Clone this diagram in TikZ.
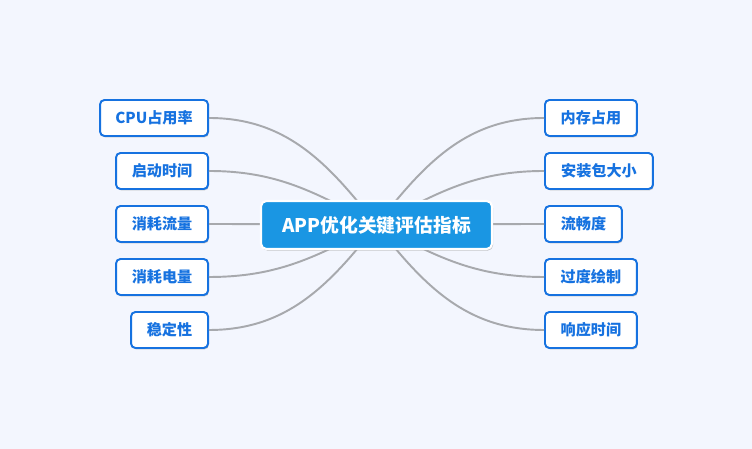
\documentclass[tikz,border=0pt]{standalone}
\usepackage{fontspec}
\setmainfont{Noto Sans CJK SC}
\usepackage{tikz}
\usepackage{xcolor}
\usetikzlibrary{positioning,shadows}
\definecolor{bgpale}{HTML}{F3F6FE}
\definecolor{leafblue}{HTML}{1672E0}
\definecolor{rootblue}{HTML}{1A96E3}
\definecolor{linkgray}{HTML}{A7A9AD}

\begin{document}
\begin{tikzpicture}[
  x=0.02cm, y=0.02cm,
  leaf/.style={draw=leafblue, fill=white, line width=1.1pt, rounded corners=2.5pt, align=center, font=\bfseries\fontsize{8.6}{10}\selectfont, text=leafblue, minimum height=0.72cm, inner sep=0pt, drop shadow={shadow xshift=0.5pt, shadow yshift=-0.8pt, opacity=0.45}},
  rootbox/.style={draw=white, fill=rootblue, line width=1.2pt, rounded corners=3pt, align=center, font=\bfseries\fontsize{10.7}{12}\selectfont, text=white, minimum width=4.62cm, minimum height=0.96cm, inner sep=0pt, drop shadow={shadow xshift=0.6pt, shadow yshift=-0.9pt, opacity=0.45}},
  link/.style={linkgray, line width=1.1pt}
]
  \fill[bgpale] (0,0) rectangle (752,449);
  \useasboundingbox (0,0) rectangle (752,449);
  \coordinate (hub) at (376.5,224);

  \node[leaf, anchor=east, minimum width=2.16cm] (cpu) at (209,331) {CPU占用率};
  \node[leaf, anchor=east, minimum width=1.84cm] (launch) at (209,278) {启动时间};
  \node[leaf, anchor=east, minimum width=1.84cm] (traffic) at (209,225) {消耗流量};
  \node[leaf, anchor=east, minimum width=1.84cm] (power) at (209,172) {消耗电量};
  \node[leaf, anchor=east, minimum width=1.54cm] (stable) at (209,119) {稳定性};

  \node[leaf, anchor=west, minimum width=1.84cm] (memory) at (544,331) {内存占用};
  \node[leaf, anchor=west, minimum width=2.16cm] (apksize) at (544,278) {安装包大小};
  \node[leaf, anchor=west, minimum width=1.54cm] (smooth) at (544,225) {流畅度};
  \node[leaf, anchor=west, minimum width=1.84cm] (overdraw) at (544,172) {过度绘制};
  \node[leaf, anchor=west, minimum width=1.84cm] (response) at (544,119) {响应时间};

  \draw[link] (hub) to[out=128, in=0] (cpu.east);
  \draw[link] (hub) to[out=152, in=0] (launch.east);
  \draw[link] (hub) to[out=180, in=0] (traffic.east);
  \draw[link] (hub) to[out=208, in=0] (power.east);
  \draw[link] (hub) to[out=232, in=0] (stable.east);
  \draw[link] (hub) to[out=52, in=180] (memory.west);
  \draw[link] (hub) to[out=28, in=180] (apksize.west);
  \draw[link] (hub) to[out=0, in=180] (smooth.west);
  \draw[link] (hub) to[out=-28, in=180] (overdraw.west);
  \draw[link] (hub) to[out=-52, in=180] (response.west);

  \node[rootbox] (root) at (hub) {APP优化关键评估指标};
\end{tikzpicture}
\end{document}
